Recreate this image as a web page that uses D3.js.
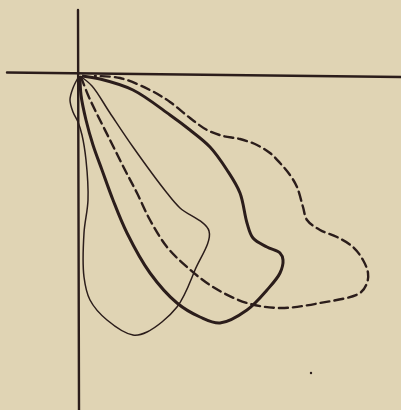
<!DOCTYPE html>
<html>
<head>
<meta charset="utf-8">
<script src="https://cdn.jsdelivr.net/npm/d3@7"></script>
<style>
  html, body { margin: 0; padding: 0; background: #e0d4b4; }
  svg { display: block; }
</style>
</head>
<body>
<script>
// Loops, in plot units (origin where the axes cross, y up)
const thinLoop = [
  [0.1, -0.1], [-0.5, -1.3], [-0.8, -2.5], [-0.5, -3.7], [0, -4.7], [0.4, -6.0],
  [0.8, -8.5], [1.0, -12.5], [0.6, -15.8], [0.6, -20.2], [1.2, -22.5], [2.9, -24.5],
  [5.5, -26.0], [6.9, -25.7], [9.9, -23.2], [11.7, -19.5], [13.1, -15.6], [10.2, -13.3],
  [8.9, -11.8], [5.5, -7.2], [3.2, -3.8], [1.4, -1.1], [0.2, -0.1]
];

const thickLoop = [
  [0.2, -0.1], [0.3, -2.0], [0.8, -4.5], [1.5, -7.0], [2.4, -9.5], [3.5, -12.5],
  [4.9, -15.8], [7.2, -19.8], [9.9, -22.8], [12.2, -24.2], [14.2, -24.8], [16.9, -23.5],
  [18.9, -21.5], [20.2, -19.8], [20.5, -18.5], [20.2, -17.8], [18.9, -17.2], [17.5, -16.3],
  [16.9, -14.8], [16.2, -11.8], [14.9, -9.5], [13.2, -7.2], [11.2, -5.5], [9.2, -4.0],
  [5.5, -1.5], [2.2, -0.4], [0.4, -0.1]
];

const dashedLoop = [
  [0.3, -0.2], [1.0, -2.0], [1.7, -3.5], [3.2, -6.5], [4.7, -9.5], [5.9, -11.8],
  [7.2, -14.5], [8.9, -17.2], [10.9, -19.2], [13.5, -21.2], [16.9, -22.8], [20.2, -23.3],
  [24.2, -22.8], [28.2, -21.8], [28.9, -20.8], [29.0, -19.8], [28.5, -18.5], [27.5, -17.2],
  [25.9, -16.2], [24.2, -15.5], [22.9, -14.5], [22.5, -13.2], [21.9, -11.2], [21.2, -10.0],
  [20.2, -8.8], [19.2, -7.8], [17.9, -7.0], [16.2, -6.4], [14.5, -6.1], [12.9, -5.5],
  [11.2, -4.3], [9.2, -2.7], [7.2, -1.5], [4.2, -0.3], [1.7, -0.1]
];

// Hand-drawn axes (ends of each stroke)
const xAxisLine = [[-7.1, 0.25], [32.3, -0.2]];
const yAxisLine = [[0, 6.5], [0.1, -33.5]];

// stray speck on the scan
const specks = [[23.3, -29.8]];

const width = 401;
const height = 410;

const x = d3.scaleLinear().domain([-7.8, 32.3]).range([0, width]);
const y = d3.scaleLinear().domain([7.5, -33.5]).range([0, height]);

const ink = '#2b1d1b';

const svg = d3.select('body')
  .append('svg')
  .attr('width', width)
  .attr('height', height);

svg.append('rect')
  .attr('width', width)
  .attr('height', height)
  .attr('fill', '#e0d4b4');

const straight = d3.line().x(d => x(d[0])).y(d => y(d[1]));
const smooth = d3.line()
  .x(d => x(d[0]))
  .y(d => y(d[1]))
  .curve(d3.curveCatmullRom.alpha(0.5));

// Axes
[xAxisLine, yAxisLine].forEach(a => {
  svg.append('path')
    .attr('d', straight(a))
    .attr('fill', 'none')
    .attr('stroke', ink)
    .attr('stroke-width', 2.4)
    .attr('stroke-linecap', 'round');
});

// Loops
svg.append('path')
  .attr('d', smooth(thinLoop))
  .attr('fill', 'none')
  .attr('stroke', ink)
  .attr('stroke-width', 1.5)
  .attr('stroke-linejoin', 'round');

svg.append('path')
  .attr('d', smooth(thickLoop))
  .attr('fill', 'none')
  .attr('stroke', ink)
  .attr('stroke-width', 3)
  .attr('stroke-linejoin', 'round');

svg.append('path')
  .attr('d', smooth(dashedLoop))
  .attr('fill', 'none')
  .attr('stroke', ink)
  .attr('stroke-width', 2.4)
  .attr('stroke-dasharray', '9 5')
  .attr('stroke-linecap', 'round');

svg.selectAll('.speck')
  .data(specks)
  .enter()
  .append('circle')
  .attr('class', 'speck')
  .attr('cx', d => x(d[0]))
  .attr('cy', d => y(d[1]))
  .attr('r', 1.2)
  .attr('fill', ink);
</script>
</body>
</html>
